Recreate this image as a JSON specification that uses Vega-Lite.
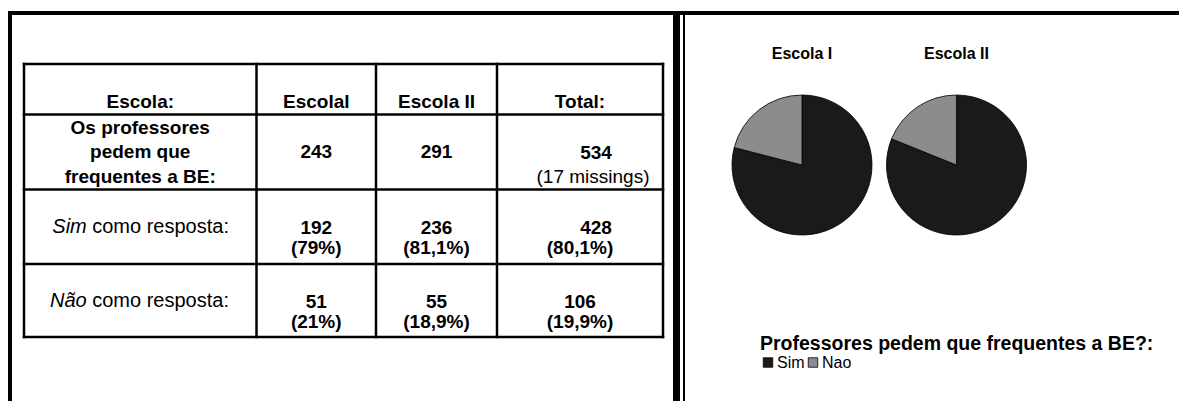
{
  "$schema": "https://vega.github.io/schema/vega-lite/v6.json",
  "width": 1179,
  "height": 401,
  "autosize": {"type": "none"},
  "padding": 0,
  "background": "white",
  "config": {"view": {"stroke": null}},
  "datasets": {
    "tabela": [
      {"c": 0.5, "r": 0.5, "papel": "cab", "t": "Escola:"},
      {"c": 1.5, "r": 0.5, "papel": "cab", "t": "Escolal"},
      {"c": 2.5, "r": 0.5, "papel": "cab", "t": "Escola II"},
      {"c": 3.5, "r": 0.5, "papel": "cab", "t": "Total:"},
      {"c": 0.5, "r": 1.5, "papel": "rot", "t": ["Os professores", "pedem que", "frequentes a BE:"]},
      {"c": 1.5, "r": 1.5, "papel": "val", "t": "243"},
      {"c": 2.5, "r": 1.5, "papel": "val", "t": "291"},
      {"c": 3.5, "r": 1.5, "papel": "tot", "t": "534"},
      {"c": 3.5, "r": 1.5, "papel": "obs", "t": "(17 missings)"},
      {"c": 0.5, "r": 2.5, "papel": "ita", "t": "Sim"},
      {"c": 0.5, "r": 2.5, "papel": "res", "t": "como resposta:"},
      {"c": 1.5, "r": 2.5, "papel": "par", "t": ["192", "(79%)"]},
      {"c": 2.5, "r": 2.5, "papel": "par", "t": ["236", "(81,1%)"]},
      {"c": 3.5, "r": 2.5, "papel": "tot", "t": "428"},
      {"c": 3.5, "r": 2.5, "papel": "par", "t": ["", "(80,1%)"]},
      {"c": 0.5, "r": 3.5, "papel": "ita", "t": "Não"},
      {"c": 0.5, "r": 3.5, "papel": "res", "t": "como resposta:"},
      {"c": 1.5, "r": 3.5, "papel": "par", "t": ["51", "(21%)"]},
      {"c": 2.5, "r": 3.5, "papel": "par", "t": ["55", "(18,9%)"]},
      {"c": 3.5, "r": 3.5, "papel": "par", "t": ["106", "(19,9%)"]}
    ],
    "linhas": [
      {"tipo": "grade", "x0": 0, "x1": 0, "y0": 0, "y1": 4},
      {"tipo": "grade", "x0": 1, "x1": 1, "y0": 0, "y1": 4},
      {"tipo": "grade", "x0": 2, "x1": 2, "y0": 0, "y1": 4},
      {"tipo": "grade", "x0": 3, "x1": 3, "y0": 0, "y1": 4},
      {"tipo": "grade", "x0": 4, "x1": 4, "y0": 0, "y1": 4},
      {"tipo": "grade", "x0": 0, "x1": 4, "y0": 0, "y1": 0},
      {"tipo": "grade", "x0": 0, "x1": 4, "y0": 1, "y1": 1},
      {"tipo": "grade", "x0": 0, "x1": 4, "y0": 2, "y1": 2},
      {"tipo": "grade", "x0": 0, "x1": 4, "y0": 3, "y1": 3},
      {"tipo": "grade", "x0": 0, "x1": 4, "y0": 4, "y1": 4},
      {"tipo": "moldura", "x0": -1, "x1": 7, "y0": -1, "y1": -1},
      {"tipo": "moldura", "x0": -1, "x1": -1, "y0": -1, "y1": 5},
      {"tipo": "divisor", "x0": 5, "x1": 5, "y0": -1, "y1": 5},
      {"tipo": "fino", "x0": 6, "x1": 6, "y0": -1, "y1": 5}
    ],
    "pizza": [
      {"escola": "Escola I", "resposta": "Sim", "n": 192},
      {"escola": "Escola I", "resposta": "Nao", "n": 51},
      {"escola": "Escola II", "resposta": "Sim", "n": 236},
      {"escola": "Escola II", "resposta": "Nao", "n": 55}
    ]
  },
  "layer": [
    {
      "layer": [
        {
          "data": {"name": "linhas"},
          "transform": [{"filter": "datum.tipo === 'grade'"}],
          "mark": {"type": "rule", "color": "#000", "strokeWidth": 2.5, "strokeCap": "square"},
          "encoding": {
            "x": {"field": "x0", "type": "quantitative", "axis": null, "scale": {"domain": [-1, 0, 1, 2, 3, 4, 5, 6, 7], "range": [10, 24, 256.5, 376, 497, 663, 676.5, 684, 1179], "zero": false, "nice": false}},
            "x2": {"field": "x1"},
            "y": {"field": "y0", "type": "quantitative", "axis": null, "scale": {"domain": [-1, 0, 1, 2, 3, 4, 5], "range": [13, 64, 114.5, 189.5, 264, 337, 401], "zero": false, "nice": false}},
            "y2": {"field": "y1"}
          }
        },
        {
          "data": {"name": "linhas"},
          "transform": [{"filter": "datum.tipo === 'moldura'"}],
          "mark": {"type": "rule", "color": "#000", "strokeWidth": 4, "strokeCap": "square"},
          "encoding": {
            "x": {"field": "x0", "type": "quantitative", "axis": null, "scale": {"domain": [-1, 0, 1, 2, 3, 4, 5, 6, 7], "range": [10, 24, 256.5, 376, 497, 663, 676.5, 684, 1179], "zero": false, "nice": false}},
            "x2": {"field": "x1"},
            "y": {"field": "y0", "type": "quantitative", "axis": null, "scale": {"domain": [-1, 0, 1, 2, 3, 4, 5], "range": [13, 64, 114.5, 189.5, 264, 337, 401], "zero": false, "nice": false}},
            "y2": {"field": "y1"}
          }
        },
        {
          "data": {"name": "linhas"},
          "transform": [{"filter": "datum.tipo === 'divisor'"}],
          "mark": {"type": "rule", "color": "#000", "strokeWidth": 7},
          "encoding": {
            "x": {"field": "x0", "type": "quantitative", "axis": null, "scale": {"domain": [-1, 0, 1, 2, 3, 4, 5, 6, 7], "range": [10, 24, 256.5, 376, 497, 663, 676.5, 684, 1179], "zero": false, "nice": false}},
            "x2": {"field": "x1"},
            "y": {"field": "y0", "type": "quantitative", "axis": null, "scale": {"domain": [-1, 0, 1, 2, 3, 4, 5], "range": [13, 64, 114.5, 189.5, 264, 337, 401], "zero": false, "nice": false}},
            "y2": {"field": "y1"}
          }
        },
        {
          "data": {"name": "linhas"},
          "transform": [{"filter": "datum.tipo === 'fino'"}],
          "mark": {"type": "rule", "color": "#000", "strokeWidth": 2},
          "encoding": {
            "x": {"field": "x0", "type": "quantitative", "axis": null, "scale": {"domain": [-1, 0, 1, 2, 3, 4, 5, 6, 7], "range": [10, 24, 256.5, 376, 497, 663, 676.5, 684, 1179], "zero": false, "nice": false}},
            "x2": {"field": "x1"},
            "y": {"field": "y0", "type": "quantitative", "axis": null, "scale": {"domain": [-1, 0, 1, 2, 3, 4, 5], "range": [13, 64, 114.5, 189.5, 264, 337, 401], "zero": false, "nice": false}},
            "y2": {"field": "y1"}
          }
        },
        {
          "data": {"name": "tabela"},
          "transform": [{"filter": "datum.papel === 'cab'"}],
          "mark": {"type": "text", "font": "Liberation Sans", "fontSize": 19, "fontWeight": "bold", "baseline": "middle", "align": "center", "color": "#000", "dy": 13},
          "encoding": {
            "x": {"field": "c", "type": "quantitative", "axis": null, "scale": {"domain": [-1, 0, 1, 2, 3, 4, 5, 6, 7], "range": [10, 24, 256.5, 376, 497, 663, 676.5, 684, 1179], "zero": false, "nice": false}},
            "y": {"field": "r", "type": "quantitative", "axis": null, "scale": {"domain": [-1, 0, 1, 2, 3, 4, 5], "range": [13, 64, 114.5, 189.5, 264, 337, 401], "zero": false, "nice": false}},
            "text": {"field": "t", "type": "nominal"}
          }
        },
        {
          "data": {"name": "tabela"},
          "transform": [{"filter": "datum.papel === 'rot'"}],
          "mark": {"type": "text", "font": "Liberation Sans", "fontSize": 19, "fontWeight": "bold", "baseline": "middle", "align": "center", "color": "#000", "lineHeight": 24.5, "dy": -24.5},
          "encoding": {
            "x": {"field": "c", "type": "quantitative", "axis": null, "scale": {"domain": [-1, 0, 1, 2, 3, 4, 5, 6, 7], "range": [10, 24, 256.5, 376, 497, 663, 676.5, 684, 1179], "zero": false, "nice": false}},
            "y": {"field": "r", "type": "quantitative", "axis": null, "scale": {"domain": [-1, 0, 1, 2, 3, 4, 5], "range": [13, 64, 114.5, 189.5, 264, 337, 401], "zero": false, "nice": false}},
            "text": {"field": "t", "type": "nominal"}
          }
        },
        {
          "data": {"name": "tabela"},
          "transform": [{"filter": "datum.papel === 'val'"}],
          "mark": {"type": "text", "font": "Liberation Sans", "fontSize": 19, "fontWeight": "bold", "baseline": "middle", "align": "center", "color": "#000"},
          "encoding": {
            "x": {"field": "c", "type": "quantitative", "axis": null, "scale": {"domain": [-1, 0, 1, 2, 3, 4, 5, 6, 7], "range": [10, 24, 256.5, 376, 497, 663, 676.5, 684, 1179], "zero": false, "nice": false}},
            "y": {"field": "r", "type": "quantitative", "axis": null, "scale": {"domain": [-1, 0, 1, 2, 3, 4, 5], "range": [13, 64, 114.5, 189.5, 264, 337, 401], "zero": false, "nice": false}},
            "text": {"field": "t", "type": "nominal"}
          }
        },
        {
          "data": {"name": "tabela"},
          "transform": [{"filter": "datum.papel === 'tot'"}],
          "mark": {"type": "text", "font": "Liberation Sans", "fontSize": 19, "fontWeight": "bold", "baseline": "middle", "align": "center", "color": "#000", "dx": 16, "dy": 1},
          "encoding": {
            "x": {"field": "c", "type": "quantitative", "axis": null, "scale": {"domain": [-1, 0, 1, 2, 3, 4, 5, 6, 7], "range": [10, 24, 256.5, 376, 497, 663, 676.5, 684, 1179], "zero": false, "nice": false}},
            "y": {"field": "r", "type": "quantitative", "axis": null, "scale": {"domain": [-1, 0, 1, 2, 3, 4, 5], "range": [13, 64, 114.5, 189.5, 264, 337, 401], "zero": false, "nice": false}},
            "text": {"field": "t", "type": "nominal"}
          }
        },
        {
          "data": {"name": "tabela"},
          "transform": [{"filter": "datum.papel === 'par'"}],
          "mark": {"type": "text", "font": "Liberation Sans", "fontSize": 19, "fontWeight": "bold", "baseline": "middle", "align": "center", "color": "#000", "lineHeight": 20.5, "dy": 1},
          "encoding": {
            "x": {"field": "c", "type": "quantitative", "axis": null, "scale": {"domain": [-1, 0, 1, 2, 3, 4, 5, 6, 7], "range": [10, 24, 256.5, 376, 497, 663, 676.5, 684, 1179], "zero": false, "nice": false}},
            "y": {"field": "r", "type": "quantitative", "axis": null, "scale": {"domain": [-1, 0, 1, 2, 3, 4, 5], "range": [13, 64, 114.5, 189.5, 264, 337, 401], "zero": false, "nice": false}},
            "text": {"field": "t", "type": "nominal"}
          }
        },
        {
          "data": {"name": "tabela"},
          "transform": [{"filter": "datum.papel === 'obs'"}],
          "mark": {"type": "text", "font": "Liberation Sans", "fontSize": 19, "fontWeight": "normal", "baseline": "middle", "align": "center", "color": "#000", "dx": 13, "dy": 24.5},
          "encoding": {
            "x": {"field": "c", "type": "quantitative", "axis": null, "scale": {"domain": [-1, 0, 1, 2, 3, 4, 5, 6, 7], "range": [10, 24, 256.5, 376, 497, 663, 676.5, 684, 1179], "zero": false, "nice": false}},
            "y": {"field": "r", "type": "quantitative", "axis": null, "scale": {"domain": [-1, 0, 1, 2, 3, 4, 5], "range": [13, 64, 114.5, 189.5, 264, 337, 401], "zero": false, "nice": false}},
            "text": {"field": "t", "type": "nominal"}
          }
        },
        {
          "data": {"name": "tabela"},
          "transform": [{"filter": "datum.papel === 'ita'"}],
          "mark": {"type": "text", "font": "Liberation Sans", "fontSize": 20, "fontStyle": "italic", "baseline": "middle", "align": "right", "color": "#000", "dx": -53.5},
          "encoding": {
            "x": {"field": "c", "type": "quantitative", "axis": null, "scale": {"domain": [-1, 0, 1, 2, 3, 4, 5, 6, 7], "range": [10, 24, 256.5, 376, 497, 663, 676.5, 684, 1179], "zero": false, "nice": false}},
            "y": {"field": "r", "type": "quantitative", "axis": null, "scale": {"domain": [-1, 0, 1, 2, 3, 4, 5], "range": [13, 64, 114.5, 189.5, 264, 337, 401], "zero": false, "nice": false}},
            "text": {"field": "t", "type": "nominal"}
          }
        },
        {
          "data": {"name": "tabela"},
          "transform": [{"filter": "datum.papel === 'res'"}],
          "mark": {"type": "text", "font": "Liberation Sans", "fontSize": 20, "baseline": "middle", "align": "left", "color": "#000", "dx": -48},
          "encoding": {
            "x": {"field": "c", "type": "quantitative", "axis": null, "scale": {"domain": [-1, 0, 1, 2, 3, 4, 5, 6, 7], "range": [10, 24, 256.5, 376, 497, 663, 676.5, 684, 1179], "zero": false, "nice": false}},
            "y": {"field": "r", "type": "quantitative", "axis": null, "scale": {"domain": [-1, 0, 1, 2, 3, 4, 5], "range": [13, 64, 114.5, 189.5, 264, 337, 401], "zero": false, "nice": false}},
            "text": {"field": "t", "type": "nominal"}
          }
        }
      ]
    },
    {
      "layer": [
        {
          "data": {"name": "pizza"},
          "transform": [{"stack": "n", "groupby": ["escola"], "sort": [{"field": "resposta", "order": "descending"}], "offset": "normalize", "as": ["a0", "a1"]}],
          "mark": {"type": "arc", "outerRadius": 70, "stroke": "#000", "strokeWidth": 0.8},
          "encoding": {
            "theta": {"field": "a0", "type": "quantitative", "scale": {"domain": [0, 1], "range": [0, 6.283185307], "zero": false, "nice": false}},
            "theta2": {"field": "a1"},
            "x": {"field": "escola", "type": "nominal", "axis": null, "scale": {"type": "point", "domain": ["Escola I", "Escola II"], "range": [802, 956.5], "padding": 0}},
            "y": {"datum": "pizza", "type": "nominal", "axis": null, "scale": {"type": "point", "domain": ["titulo", "pizza"], "range": [54, 165], "padding": 0}},
            "color": {
              "field": "resposta",
              "type": "nominal",
              "scale": {"domain": ["Sim", "Nao"], "range": ["#1a1a1a", "#8c8c8c"]},
              "legend": {
                "title": "Professores pedem que frequentes a BE?:",
                "orient": "none",
                "legendX": 760,
                "legendY": 335,
                "direction": "horizontal",
                "symbolType": "square",
                "symbolSize": 90,
                "symbolStrokeColor": "#000",
                "symbolStrokeWidth": 0.8,
                "titleFont": "Liberation Sans",
                "titleFontSize": 19.5,
                "titleFontWeight": "bold",
                "titleColor": "#000",
                "titleLimit": 2000,
                "titlePadding": 0,
                "labelFont": "Liberation Sans",
                "labelFontSize": 16,
                "labelColor": "#000",
                "labelOffset": 1,
                "columnPadding": 0,
                "padding": 0
              }
            }
          }
        },
        {
          "data": {"name": "pizza"},
          "transform": [{"filter": "datum.resposta === 'Sim'"}],
          "mark": {"type": "text", "font": "Liberation Sans", "fontSize": 16, "fontWeight": "bold", "baseline": "middle", "align": "center", "color": "#000"},
          "encoding": {
            "x": {"field": "escola", "type": "nominal", "axis": null, "scale": {"type": "point", "domain": ["Escola I", "Escola II"], "range": [802, 956.5], "padding": 0}},
            "y": {"datum": "titulo", "type": "nominal", "axis": null, "scale": {"type": "point", "domain": ["titulo", "pizza"], "range": [54, 165], "padding": 0}},
            "text": {"field": "escola", "type": "nominal"}
          }
        }
      ]
    }
  ],
  "resolve": {"scale": {"x": "independent", "y": "independent"}}
}
